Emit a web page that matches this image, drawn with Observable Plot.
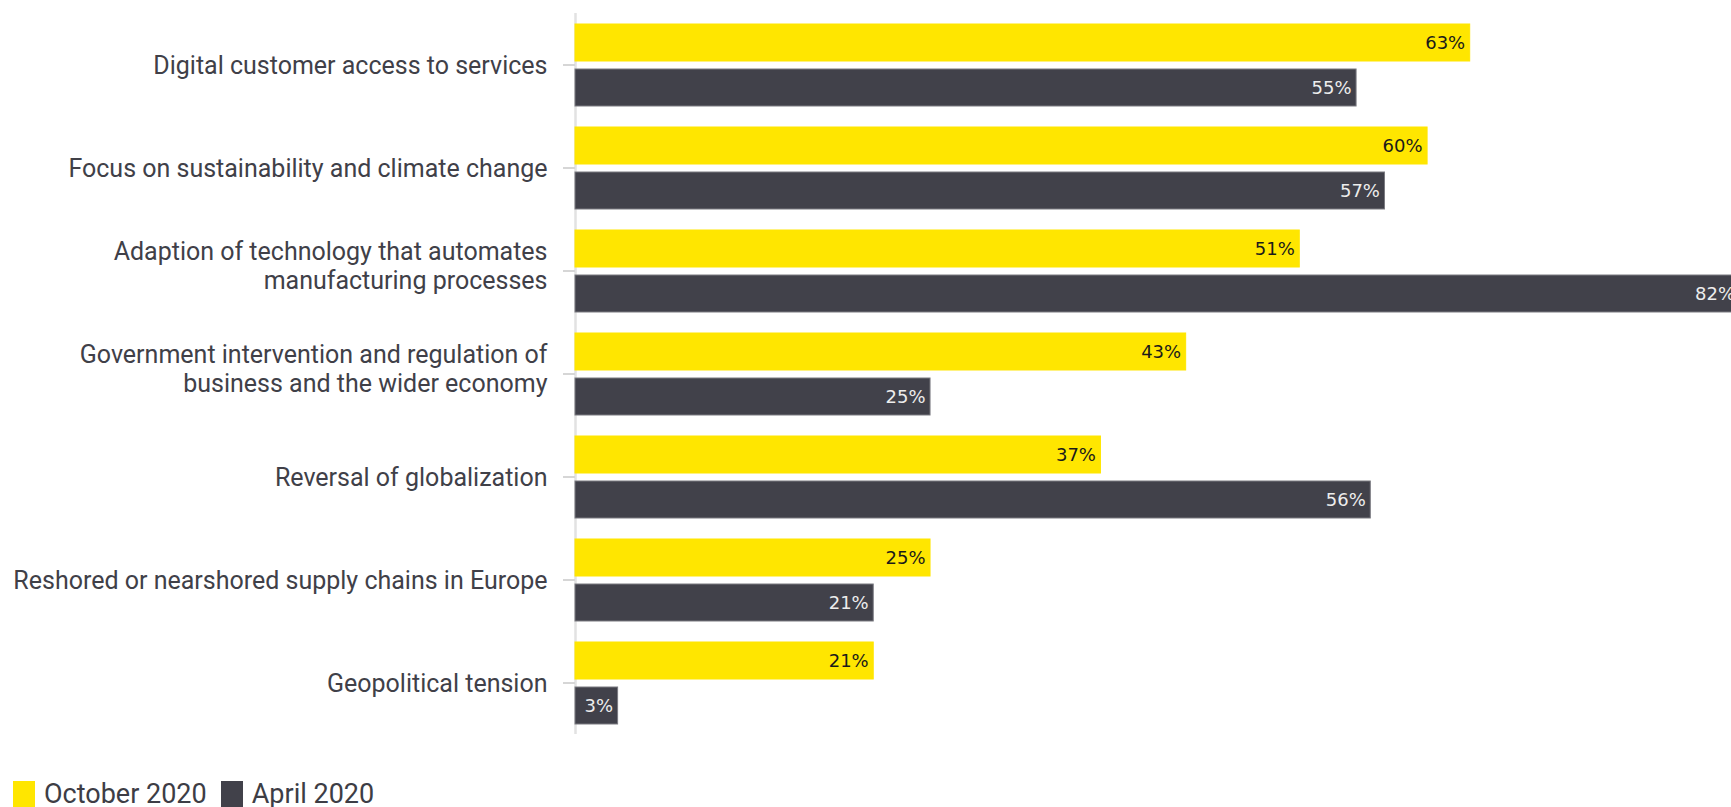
<!DOCTYPE html>
<html>
<head>
<meta charset="utf-8">
<script src="https://cdn.jsdelivr.net/npm/d3@7"></script>
<script src="https://cdn.jsdelivr.net/npm/@observablehq/plot@0.6"></script>
<style>
  html, body { margin: 0; padding: 0; background: #fff; overflow: hidden; }
  #chart { position: absolute; left: 0; top: 0; }
  #legend { position: absolute; left: 13px; top: 778px; display: flex; align-items: center;
            font-family: Roboto, sans-serif; font-size: 27px; color: #3d3d45; }
  .sw { width: 22px; height: 27px; display: inline-block; margin-right: 9px; }
  .item { display: flex; align-items: center; margin-right: 14px; }
</style>
</head>
<body>
<div id="chart"></div>
<div id="legend"></div>
<script>
const categories = [
  "Digital customer access to services",
  "Focus on sustainability and climate change",
  "Adaption of technology that automates\nmanufacturing processes",
  "Government intervention and regulation of\nbusiness and the wider economy",
  "Reversal of globalization",
  "Reshored or nearshored supply chains in Europe",
  "Geopolitical tension"
];
const series = ["October 2020", "April 2020"];
const october = [63, 60, 51, 43, 37, 25, 21];
const april = [55, 57, 82, 25, 56, 21, 3];
const colors = ["#FFE600", "#41414A"];
const labelColors = ["#1a1a1a", "#ededed"];
const edgeColors = ["#FFE600", "#7a7a80"];

const data = [];
categories.forEach((c, i) => {
  data.push({category: c, series: series[0], value: october[i]});
  data.push({category: c, series: series[1], value: april[i]});
});
const multiLine = categories.filter(c => c.includes("\n"));

const labelFont = {fill: "#404048", fontSize: 25, lineHeight: 1.15, fontFamily: "Roboto, sans-serif", label: null};

const chart = Plot.plot({
  width: 1731,
  height: 760,
  marginLeft: 575,
  marginRight: 0,
  marginTop: 11,
  marginBottom: 24,
  style: {background: "#fff"},
  x: {domain: [0, 81.4], axis: null},
  y: {domain: series, paddingInner: 0.183, paddingOuter: 0.234, axis: null},
  fy: {domain: categories, padding: 0, axis: null},
  color: {domain: series, range: colors},
  marks: [
    Plot.ruleX([0], {stroke: "#e2e2e2", strokeWidth: 2.5}),
    Plot.axisFy({
      anchor: "left", tickSize: 12, tickPadding: 16, stroke: "#d6d6d6", strokeWidth: 2,
      tickFormat: d => d.includes("\n") ? "" : d, ...labelFont
    }),
    Plot.axisFy({
      anchor: "left", ticks: multiLine, tickSize: 0, tickPadding: 28, dy: -6,
      ...labelFont
    }),
    Plot.barX(data, {
      fy: "category", y: "series", x: "value", fill: "series",
      stroke: d => edgeColors[series.indexOf(d.series)], strokeWidth: 1
    }),
    Plot.text(data, {
      fy: "category", y: "series", x: "value",
      text: d => d.value + "%", textAnchor: "end", dx: -5,
      fill: d => labelColors[series.indexOf(d.series)],
      fontSize: 18, fontFamily: "DejaVu Sans, sans-serif"
    })
  ]
});
document.getElementById("chart").appendChild(chart);

const legend = document.getElementById("legend");
series.forEach((s, i) => {
  const item = document.createElement("div");
  item.className = "item";
  const sw = document.createElement("span");
  sw.className = "sw";
  sw.style.background = colors[i];
  item.appendChild(sw);
  item.appendChild(document.createTextNode(s));
  legend.appendChild(item);
});
</script>
</body>
</html>
